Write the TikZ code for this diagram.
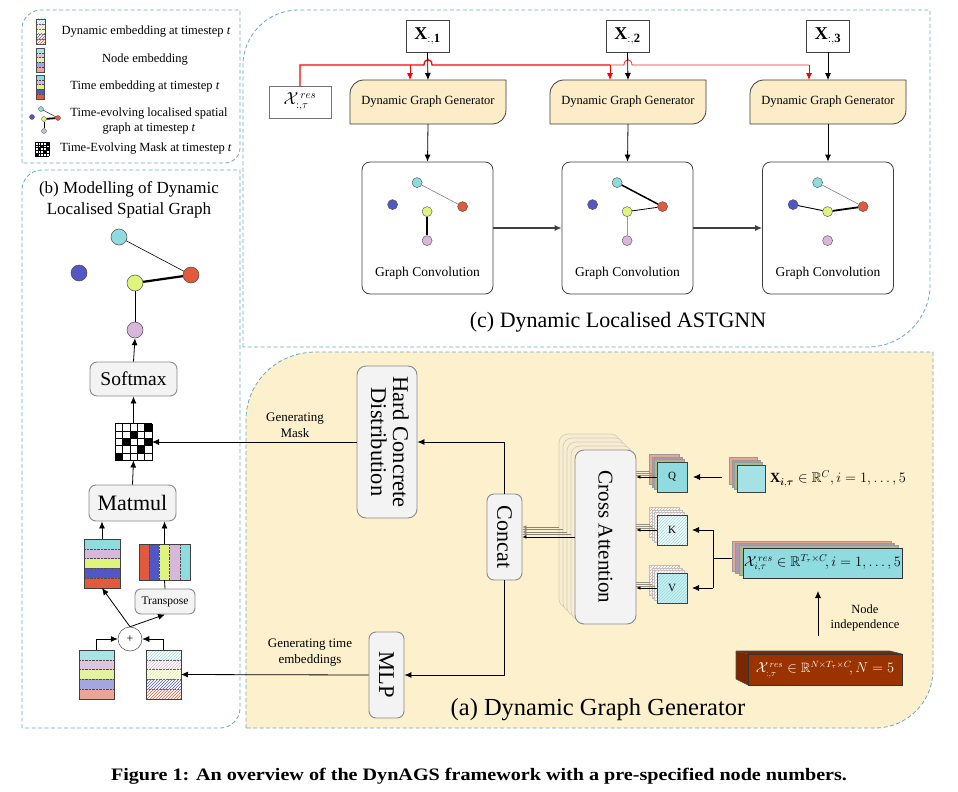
\documentclass[tikz,border=0pt]{standalone}
\usepackage{amsmath,amssymb}
\usepackage{fontspec}
\setmainfont{Liberation Serif}
\usetikzlibrary{arrows.meta,patterns,calc}
\definecolor{ncyan}{HTML}{8FDBE0}
\definecolor{nblue}{HTML}{5157C4}
\definecolor{nyel}{HTML}{DEF47C}
\definecolor{nred}{HTML}{E05A3B}
\definecolor{npur}{HTML}{D9B7DA}
\definecolor{lcyan}{HTML}{A8E3E6}
\definecolor{lblue}{HTML}{A3A6DF}
\definecolor{lyel}{HTML}{E3F29E}
\definecolor{lred}{HTML}{EBA597}
\definecolor{lpur}{HTML}{DDC5DE}
\definecolor{panelc}{HTML}{6AAABD}
\definecolor{beige}{HTML}{FDF0CD}
\definecolor{dggfill}{HTML}{FCEDC8}
\definecolor{brownf}{HTML}{9A3300}
\definecolor{browntop}{HTML}{7A2800}
\definecolor{salm}{HTML}{E7A593}
\definecolor{gpur}{HTML}{A89AB5}
\definecolor{oliv}{HTML}{AAB890}
\definecolor{gboxfill}{HTML}{F3F3F3}
\definecolor{gboxline}{HTML}{8A8A8A}
\definecolor{cabk}{HTML}{F6EDD3}
\definecolor{cabkl}{HTML}{D6CDB5}
\newcommand\fsz[2]{\fontsize{#1}{#2}\selectfont}
\newcommand\hstripes[5]{%
  \foreach \cc [count=\i from 0] in {#5} {\fill[\cc] (#1,{#2+\i*#4/5}) rectangle ++(#3,#4/5);}
  \foreach \i in {1,...,4} {\draw[densely dotted,line width=0.4,black!70] (#1,{#2+\i*#4/5}) -- ++(#3,0);}}
\newcommand\hhatch[5]{%
  \fill[white] (#1,#2) rectangle ++(#3,#4);
  \foreach \cc [count=\i from 0] in {#5} {\fill[pattern=north east lines,pattern color=\cc] (#1,{#2+\i*#4/5}) rectangle ++(#3,#4/5);}
  \foreach \i in {1,...,4} {\draw[densely dotted,line width=0.4,black!60] (#1,{#2+\i*#4/5}) -- ++(#3,0);}}
\begin{document}
\begin{tikzpicture}[x=1pt,y=-1pt,
  panel/.style={draw=panelc,dashed,dash pattern=on 4pt off 2.5pt,line width=0.8},
  arr/.style={-{Latex[length=7pt,width=6pt]},line width=0.8},
  sarr/.style={-{Latex[length=4pt,width=3.5pt]},line width=0.5},
  redthick/.style={red,line width=1.3},
  redthin/.style={red!85,line width=0.8},
  redarr/.style={-{Latex[length=7pt,width=6pt]},red,line width=0.9},
  gbox/.style={draw=gboxline,fill=gboxfill,rounded corners=7,line width=0.9,inner sep=0},
  gcbox/.style={draw=black!75,fill=white,rounded corners=8,line width=0.8,inner sep=0,minimum width=131,minimum height=132},
  xbox/.style={draw=black!75,fill=white,line width=0.8,inner sep=0,minimum width=43,minimum height=32},
  bn/.style={circle,draw=black!70,line width=0.5,minimum size=16,inner sep=0},
  sn/.style={circle,draw=black!70,line width=0.4,minimum size=10,inner sep=0},
  tn/.style={circle,draw=black!70,line width=0.3,minimum size=5,inner sep=0},
  plain/.style={inner sep=0,outer sep=0}]
\useasboundingbox (0,0) rectangle (958,792);
\fill[white] (0,0) rectangle (958,792);

% ---------- panels ----------
\fill[beige] (246,728) -- (246,420) .. controls (246,382) and (277,352) .. (316,352) -- (933,352) -- (933,670) .. controls (933,702) and (907,728) .. (875,728) -- cycle;
\draw[panel] (246,728) -- (246,420) .. controls (246,382) and (277,352) .. (316,352) -- (933,352) -- (933,670) .. controls (933,702) and (907,728) .. (875,728) -- cycle;
\draw[panel] (243,347) -- (243,65) .. controls (243,35) and (268,10) .. (298,10) -- (930,10) -- (930,285) .. controls (930,319) and (902,347) .. (868,347) -- cycle;
\draw[panel] (22,163) -- (22,28) .. controls (22,18) and (32,10) .. (40,10) -- (240,10) -- (240,148) .. controls (240,156) and (233,163) .. (225,163) -- cycle;
\draw[panel] (22,728) -- (22,190) .. controls (22,179) and (31,170) .. (42,170) -- (240,170) -- (240,708) .. controls (240,719) and (231,728) .. (220,728) -- cycle;

% ---------- legend ----------
\hhatch{36}{19}{9}{25}{ncyan,npur,nyel,nblue,nred}
\draw[line width=0.5,black!70] (36,19) rectangle (45,44);
\hstripes{36}{48}{8}{24}{lcyan,lpur,lyel,lblue,lred}
\draw[line width=0.5,black!70] (36,48) rectangle (44,72);
\hstripes{36}{75}{8}{24}{ncyan,npur,nyel,nblue,nred}
\draw[line width=0.5,black!70] (36,75) rectangle (44,99);
\node[tn,fill=ncyan] (lc) at (41,109) {};
\node[tn,fill=nblue] (lb) at (32,117) {};
\node[tn,fill=nyel] (ly) at (44,119) {};
\node[tn,fill=nred] (lr) at (58,118) {};
\node[tn,fill=npur] (lp) at (44,131) {};
\draw[line width=0.4] (lc) -- (lr);
\draw[line width=1.8] (ly) -- (lr);
\draw[line width=0.7] (ly) -- (lp);
\fill[white] (35,142) rectangle (49,156);
\foreach \c/\r in {4/0,2/1,1/2,4/2,3/3,0/4} {\fill (35+\c*2.8,142+\r*2.8) rectangle ++(2.8,2.8);}
\foreach \i in {0,...,5} {\draw[line width=0.25] (35+\i*2.8,142) -- (35+\i*2.8,156); \draw[line width=0.25] (35,142+\i*2.8) -- (49,142+\i*2.8);}
\node[plain,font=\fsz{12.5}{15}] (lt1) at (146,32) {Dynamic embedding at timestep \textit{t}};
\node[plain,font=\fsz{12.5}{15}] (lt2) at (145,60) {Node embedding};
\node[plain,font=\fsz{12.5}{15}] (lt3) at (145,87) {Time embedding at timestep \textit{t}};
\node[plain,font=\fsz{12.5}{15},align=center] (lt4) at (149,121) {Time-evolving localised spatial\\graph at timestep \textit{t}};
\node[plain,font=\fsz{12.5}{15}] (lt5) at (146,149) {Time-Evolving Mask at timestep \textit{t}};

% ---------- panel (b) ----------
\node[plain,font=\fsz{17}{21},align=center] (btitle) at (129,200) {(b) Modelling of Dynamic\\Localised Spatial Graph};
\node[bn,fill=ncyan] (bc) at (119,237) {};
\node[bn,fill=nblue] (bb) at (79,273) {};
\node[bn,fill=nyel] (by) at (135,283) {};
\node[bn,fill=nred] (br) at (191,275) {};
\node[bn,fill=npur] (bp) at (135,330) {};
\draw[line width=0.6] (bc) -- (br);
\draw[line width=2.2] (by) -- (br);
\draw[line width=1] (by) -- (bp);
\node[gbox,minimum width=87,minimum height=34,font=\fsz{19.5}{22}] (soft) at (133.5,379) {Softmax};
% mask
\node[plain,minimum width=37,minimum height=37,fill=white] (mask) at (133.5,442) {};
\foreach \c/\r in {4/0,2/1,1/2,4/2,3/3,0/4} {\fill (115+\c*7.4,423.5+\r*7.4) rectangle ++(7.4,7.4);}
\foreach \i in {0,...,5} {\draw[line width=0.6] (115+\i*7.4,423.5) -- (115+\i*7.4,460.5); \draw[line width=0.6] (115,423.5+\i*7.4) -- (152,423.5+\i*7.4);}
\node[gbox,minimum width=87,minimum height=36,font=\fsz{22}{24}] (matmul) at (132.5,503) {Matmul};
% time embedding column
\hstripes{84}{539}{36}{49}{ncyan,npur,nyel,nblue,nred}
\node[plain,draw=black!75,line width=0.8,minimum width=36,minimum height=49] (te) at (102,563.5) {};
% transposed
\foreach \cc [count=\i from 0] in {nred,nblue,nyel,npur,ncyan} {\fill[\cc] (139+\i*10.2,544) rectangle ++(10.2,36);}
\foreach \i in {1,...,4} {\draw[densely dotted,line width=0.4,black!70] (139+\i*10.2,544) -- ++(0,36);}
\node[plain,draw=black!75,line width=0.8,minimum width=51,minimum height=36] (trb) at (164.5,562) {};
\node[gbox,rounded corners=6,minimum width=60,minimum height=25,font=\fsz{11.5}{13}] (transp) at (165,601.5) {Transpose};
\node[circle,draw=black!70,fill=white,line width=0.5,minimum size=24,inner sep=0,font=\fsz{12}{12}] (plus) at (130,639) {+};
% node embedding and dynamic embedding
\hstripes{79}{650}{35}{49}{lcyan,lpur,lyel,lblue,lred}
\node[plain,draw=black!75,line width=0.8,minimum width=35,minimum height=49] (ne) at (96.5,674.5) {};
\hhatch{146}{650}{35}{49}{ncyan,npur,nyel,nblue,nred}
\node[plain,draw=black!75,line width=0.8,minimum width=35,minimum height=49] (de) at (163.5,674.5) {};
% connectors in (b)
\draw[arr] (soft.north) -- (bp.south);
\draw[arr] (mask.north) -- (soft.south);
\draw[arr] (matmul.north) -- (mask.south);
\draw[arr] (te.north) -- (te.north |- matmul.south);
\draw[arr] (trb.north) -- (trb.north |- matmul.south);
\draw[line width=0.8] (transp.north) -- (trb.south);
\draw[arr] (plus.north) -- (te.south);
\draw[arr] (plus.north) -- (transp.south);
\draw[arr] (ne.north) |- (plus.west);
\draw[arr] (de.north) |- (plus.east);

% ---------- panel (c) ----------
\node[xbox,font=\fsz{18}{20}] (x1) at (427.5,36) {$\mathbf{X}_{:,\mathbf{1}}$};
\node[xbox,font=\fsz{18}{20}] (x2) at (627.5,36) {$\mathbf{X}_{:,\mathbf{2}}$};
\node[xbox,font=\fsz{18}{20}] (x3) at (828,36) {$\mathbf{X}_{:,\mathbf{3}}$};
\node[plain,draw=black!55,fill=white,line width=0.8,minimum width=62,minimum height=32,font=\fsz{16}{18}] (xres) at (300,102) {$\mathcal{X}^{\,res}_{:,\tau}$};
\foreach \k/\cx in {1/428,2/628,3/828} {
  \fill[dggfill] (\cx-78,124) -- (\cx-78,94) .. controls (\cx-78,86) and (\cx-72,80) .. (\cx-64,80) -- (\cx+78,80) -- (\cx+78,110) .. controls (\cx+78,118) and (\cx+72,124) .. (\cx+64,124) -- cycle;
  \draw[black!75,line width=0.8] (\cx-78,124) -- (\cx-78,94) .. controls (\cx-78,86) and (\cx-72,80) .. (\cx-64,80) -- (\cx+78,80) -- (\cx+78,110) .. controls (\cx+78,118) and (\cx+72,124) .. (\cx+64,124) -- cycle;
  \node[plain,minimum width=156,minimum height=44,font=\fsz{12.5}{15}] (dgg\k) at (\cx,102) {Dynamic Graph Generator};
}
\node[gcbox] (gc1) at (427.5,228) {};
\node[gcbox] (gc2) at (627.5,228) {};
\node[gcbox] (gc3) at (828,228) {};
\foreach \k in {1,2,3} {
  \node[plain,font=\fsz{13.5}{15}] (gct\k) at ($(gc\k.center)+(0,45)$) {Graph Convolution};
  \node[sn,fill=ncyan] (g\k c) at ($(gc\k.north west)+(55.5,21)$) {};
  \node[sn,fill=nblue] (g\k b) at ($(gc\k.north west)+(31,43)$) {};
  \node[sn,fill=nyel] (g\k y) at ($(gc\k.north west)+(65.5,50)$) {};
  \node[sn,fill=nred] (g\k r) at ($(gc\k.north west)+(101,45)$) {};
  \node[sn,fill=npur] (g\k p) at ($(gc\k.north west)+(65.5,79)$) {};
}
\draw[black!55,line width=0.5] (g1c) -- (g1r);
\draw[line width=1.5] (g1y) -- (g1p);
\draw[line width=1.5] (g2c) -- (g2r);
\draw[line width=0.8] (g2y) -- (g2r);
\draw[black!40,line width=0.5] (g2y) -- (g2p);
\draw[black!55,line width=0.5] (g3c) -- (g3r);
\draw[line width=0.9] (g3b) -- (g3y);
\draw[line width=1.8] (g3y) -- (g3r);
% red lines
\draw[redthick] (xres.north) -- (300,65) -- (424,65) .. controls (424,58) and (432,58) .. (432,65) -- (610,65);
\draw[redthin] (610,65) -- (624,65) .. controls (624,58) and (632,58) .. (632,65) -- (809,65);
\draw[redarr] ($(dgg1.north)+(-18,-15)$) -- ($(dgg1.north)+(-18,0)$);
\draw[redarr] ($(dgg2.north)+(-18,-15)$) -- ($(dgg2.north)+(-18,0)$);
\draw[redarr] ($(dgg3.north)+(-19,-15)$) -- ($(dgg3.north)+(-19,0)$);
\foreach \k in {1,2,3} {
  \draw[arr] (x\k.south) -- (dgg\k.north);
  \draw[arr] (dgg\k.south) -- (gc\k.north);
}
\draw[arr,black!75,line width=1.1] (gc1.east) -- (gc2.west);
\draw[arr,black!75,line width=1.1] (gc2.east) -- (gc3.west);
\node[plain,font=\fsz{22}{24}] (ctitle) at (618,322) {(c) Dynamic Localised ASTGNN};

% ---------- panel (a) ----------
\node[gbox,rounded corners=9,minimum width=60,minimum height=152] (hcd) at (387,442) {\rotatebox{-90}{\fsz{22.5}{24}\begin{tabular}{@{}c@{}}Hard Concrete\\[-2pt]Distribution\end{tabular}}};
\node[gbox,minimum width=35,minimum height=86] (concat) at (504.5,537) {\rotatebox{-90}{\fsz{22}{24}Concat}};
\node[gbox,minimum width=35,minimum height=86] (mlp) at (386.5,675) {\rotatebox{-90}{\fsz{22.5}{24}MLP}};
% cross attention stack
\foreach \k in {4,3,2,1} {
  \draw[cabkl,fill=cabk,rounded corners=9,line width=0.7] (575-4*\k,450-4*\k) rectangle ++(61,174);
}
\node[gbox,rounded corners=9,minimum width=61,minimum height=174,fill=gboxfill] (ca) at (605.5,537) {\rotatebox{-90}{\fsz{21}{24}Cross Attention}};
\foreach \k in {4,3,2,1} {
  \draw[sarr,color=black!35!cabkl] (575-4*\k,537-2.5*\k) -- (concat.east |- {(0,537-2.5*\k)});
}
\draw[sarr] (ca.west) -- (concat.east |- ca.west);
% Q K V stacks
\foreach \k/\cc in {3/salm,2/gpur,1/oliv} {
  \fill[\cc] (657-2.5*\k,462-2.5*\k) rectangle ++(30,30);
  \draw[black!40,line width=0.3] (657-2.5*\k,462-2.5*\k) rectangle ++(30,30);
}
\node[plain,draw=black!75,line width=0.6,fill=ncyan,minimum width=30,minimum height=30,font=\fsz{11}{12}] (q) at (672,477) {Q};
\foreach \k/\cc in {3/salm,2/npur,1/salm!70} {
  \fill[white] (657-2.5*\k,515-2.5*\k) rectangle ++(30,30);
  \fill[pattern=north east lines,pattern color=\cc] (657-2.5*\k,515-2.5*\k) rectangle ++(30,30);
  \draw[black!25,line width=0.3] (657-2.5*\k,515-2.5*\k) rectangle ++(30,30);
  \fill[white] (657-2.5*\k,573-2.5*\k) rectangle ++(30,30);
  \fill[pattern=north east lines,pattern color=\cc] (657-2.5*\k,573-2.5*\k) rectangle ++(30,30);
  \draw[black!25,line width=0.3] (657-2.5*\k,573-2.5*\k) rectangle ++(30,30);
}
\fill[white] (657,515) rectangle ++(30,30);
\fill[pattern=north east lines,pattern color=ncyan] (657,515) rectangle ++(30,30);
\node[plain,draw=black!75,line width=0.6,minimum width=30,minimum height=30,font=\fsz{11}{12}] (k) at (672,530) {K};
\fill[ncyan!45] (657,573) rectangle ++(30,30);
\fill[pattern=north east lines,pattern color=ncyan] (657,573) rectangle ++(30,30);
\node[plain,draw=black!75,line width=0.6,minimum width=30,minimum height=30,font=\fsz{11}{12}] (v) at (672,588) {V};
\foreach \n/\y in {q/477,k/530,v/588} {
  \foreach \k in {3,2,1} {\draw[black!30!cabkl,line width=0.5] (657-2.5*\k,\y-2*\k) -- (ca.east |- {(0,\y-2*\k)});}
  \draw[sarr] (\n.west) -- (ca.east |- \n.west);
}
% X_i stack
\foreach \k/\cc in {3/salm,2/gpur,1/oliv} {
  \fill[\cc] (737-2.5*\k,465-2.5*\k) rectangle ++(28,27);
  \draw[black!40,line width=0.3] (737-2.5*\k,465-2.5*\k) rectangle ++(28,27);
}
\node[plain,draw=black!75,line width=0.6,fill=ncyan!80!white,minimum width=28,minimum height=27] (xi) at (751,478.5) {};
\node[plain,anchor=west,font=\fsz{14}{16}] (xit) at (770,479) {$\mathbf{X}_{\boldsymbol{i},\boldsymbol{\tau}}\in\mathbb{R}^{C}, i=1,\ldots,5$};
\draw[arr] ($(xi.west)+(-15,-1.5)$) -- ($(q.east)+(6,0)$);
% X^res stack
\foreach \k/\cc in {3/salm,2/gpur,1/oliv} {
  \fill[\cc] (743-3.7*\k,548-2.4*\k) rectangle ++(159,30);
  \draw[black!40,line width=0.3] (743-3.7*\k,548-2.4*\k) rectangle ++(159,30);
}
\node[plain,draw=black!80,line width=0.8,fill=ncyan,minimum width=159,minimum height=30,font=\fsz{14}{16}] (xr) at (822.5,563) {$\mathcal{X}^{\,res}_{i,\tau}\in\mathbb{R}^{T_\tau\times C}\!, i=1,\ldots,5$};
\coordinate (xb) at ($(xr.west)+(-30,-5)$);
\draw[line width=0.8] ($(xr.west)+(-11,-5)$) -- (xb);
\draw[line width=0.8] (xb |- k.east) -- (xb |- v.east);
\draw[arr] (xb |- k.east) -- ($(k.east)+(5,0)$);
\draw[arr] (xb |- v.east) -- ($(v.east)+(5,0)$);
% brown block
\fill[browntop] (736,651) -- (890,651) -- (902,654) -- (748,654) -- cycle;
\fill[browntop] (736,651) -- (748,654) -- (748,685) -- (736,679) -- cycle;
\draw[black!70,line width=0.6] (736,651) -- (890,651) -- (902,654) (736,651) -- (748,654) (736,651) -- (736,679) -- (748,685);
\node[plain,draw=black!80,line width=0.7,fill=brownf,minimum width=154,minimum height=31,text=white,font=\fsz{13.5}{15}] (bx) at (825,669.5) {$\mathcal{X}^{\,res}_{:,\tau}\in\mathbb{R}^{N\times T_\tau\times C}\!, N=5$};
\draw[arr] ($(bx.north)+(-7,-18)$) -- ($(xr.south)+(-4.5,13)$);
\node[plain,font=\fsz{12.5}{15},align=center] (nil) at (865,618) {Node\\independence};
% connections in (a)
\draw[arr] (concat.north) |- (hcd.east);
\draw[arr] (concat.south) |- (mlp.east);
\draw[arr] (hcd.west) -- (mask.east);
\draw[arr] (mlp.west) -- (de.east);
\node[plain,font=\fsz{13}{16},align=center] (lgm) at (295,425) {Generating\\Mask};
\node[plain,font=\fsz{13}{16},align=center] (lgt) at (310,653) {Generating time\\embeddings};
\node[plain,font=\fsz{24.5}{26}] (atitle) at (598,710) {(a) Dynamic Graph Generator};

% caption
\node[plain,xscale=1.15,font=\fsz{17.5}{20}\bfseries] (cap) at (479,776) {Figure 1: An overview of the DynAGS framework with a pre-specified node numbers.};
\end{tikzpicture}
\end{document}
